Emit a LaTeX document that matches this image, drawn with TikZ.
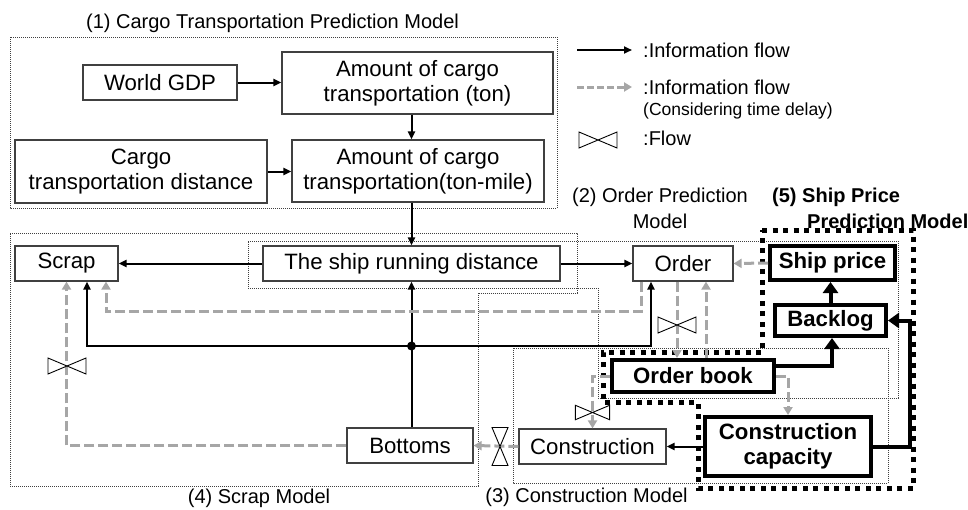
\documentclass[tikz,border=0pt]{standalone}
\usepackage{fontspec}
\setmainfont{Liberation Sans}
\usetikzlibrary{arrows.meta}
\definecolor{dg}{HTML}{A6A6A6}
\definecolor{bx}{HTML}{404040}
\tikzset{
 box/.style={draw=bx, line width=1.2pt, fill=white, inner sep=0pt, align=center, font=\fontsize{22.2}{25}\selectfont},
 tbox/.style={draw=black, line width=4pt, fill=white, inner sep=0pt, align=center, font=\bfseries\fontsize{22.2}{25}\selectfont},
 lbl/.style={inner sep=0pt, align=center, font=\fontsize{20}{26}\selectfont},
 arr/.style={draw=black, line width=2pt, -{Triangle[length=8pt,width=7pt]}},
 tarr/.style={draw=black, line width=4pt, -{Triangle[length=11pt,width=15pt]}},
 gd/.style={draw=dg, line width=3pt, dash pattern=on 10pt off 4pt, -{Triangle[length=8pt,width=9pt,fill=dg]}},
 region/.style={draw=bx, line width=0.8pt, dash pattern=on 1pt off 1pt},
 tregion/.style={draw=black, line width=5pt, dash pattern=on 5pt off 5.5pt},
 valve/.pic={\draw[black, line width=0.9pt, fill=white, solid] (-19,-8) -- (0,0) -- (-19,8) -- cycle (19,-8) -- (0,0) -- (19,8) -- cycle;}
}
\begin{document}
\begin{tikzpicture}[x=1pt,y=-1pt]
\useasboundingbox[fill=white] (0,0) rectangle (968,509);

% regions
\draw[region] (10,37) rectangle (557,208);
\draw[region] (10,233) -- (577,233) -- (577,293) -- (478,293) -- (478,486) -- (10,486) -- cycle;
\draw[region] (248,241) -- (898,241) -- (898,398) -- (598,398) -- (598,288) -- (248,288) -- cycle;
\draw[region] (513,348) rectangle (888,483);
\draw[tregion] (762,230) -- (913,230) -- (913,488) -- (698,488) -- (698,402) -- (603,402) -- (603,352) -- (762,352) -- cycle;

% labels
\node[lbl] (t1) at (272.5,23) {(1) Cargo Transportation Prediction Model};
\node[lbl] (t2) at (660,208) {(2) Order Prediction\\Model};
\node[lbl, anchor=west, align=left, font=\bfseries\fontsize{20}{26}\selectfont] (t5) at (772,208) {(5) Ship Price\\\hspace*{35pt}Prediction Model};
\node[lbl] (t4) at (259,498) {(4) Scrap Model};
\node[lbl] (t3) at (586.5,497) {(3) Construction Model};

% nodes
\node[box, minimum width=154pt, minimum height=35pt] (gdp) at (160,82.5) {World GDP};
\node[box, minimum width=271pt, minimum height=62pt] (ton) at (417.5,83) {Amount of cargo\\transportation (ton)};
\node[box, minimum width=252pt, minimum height=63pt] (dist) at (141,171.5) {Cargo\\transportation distance};
\node[box, minimum width=252pt, minimum height=62pt] (tonmile) at (418,171) {Amount of cargo\\transportation(ton-mile)};
\node[box, minimum width=103pt, minimum height=35pt] (scrap) at (66.5,263.5) {Scrap};
\node[box, minimum width=297pt, minimum height=35pt] (ship) at (411.5,263.5) {The ship running distance};
\node[box, minimum width=100pt, minimum height=35pt] (order) at (683,263.5) {Order};
\node[tbox, minimum width=125pt, minimum height=34pt] (price) at (832.5,263) {Ship price};
\node[tbox, minimum width=111pt, minimum height=31pt] (backlog) at (830.5,320.5) {Backlog};
\node[tbox, minimum width=162pt, minimum height=32pt] (obook) at (693,376) {Order book};
\node[tbox, minimum width=166pt, minimum height=59pt] (ccap) at (788,446.5) {Construction\\capacity};
\node[box, minimum width=147pt, minimum height=35pt] (constr) at (592.5,446.5) {Construction};
\node[box, minimum width=126pt, minimum height=35pt] (bottoms) at (410,445.5) {Bottoms};

% solid connectors
\draw[arr] (gdp.east) -- (ton.west |- gdp.east);
\draw[arr] (ship |- ton.south) -- (ship |- tonmile.north);
\draw[arr] (dist.east) -- (tonmile.west |- dist.east);
\draw[arr] (ship |- tonmile.south) -- (ship.north);
\draw[arr] (ship.west) -- (scrap.east);
\draw[arr] (ship.east) -- (order.west);
\coordinate (j) at (411.5,346);
\draw[arr] (j |- bottoms.north) -- (ship.south);
\draw[arr] (j) -| ([xshift=20.5pt]scrap.south);
\draw[arr] (j) -| ([xshift=-32pt]order.south);
\fill (j) circle (4.5);
\draw[arr] (ccap.west) -- (constr.east);

% thick connectors
\draw[tarr] (backlog.north) -- (backlog.north |- price.south);
\draw[tarr] ([yshift=10pt]obook.east) -| ([xshift=1.5pt]backlog.south);
\draw[tarr] (ccap.east) -- ++(37,0) |- (backlog.east);

% gray dashed connectors
\draw[gd] (price.west) -- (order.east);
\draw[gd] ([xshift=-42pt]order.south) -- ++(0,30) -| ([xshift=39.5pt]scrap.south);
\draw[gd] ([xshift=-6pt]order.south) -- ([xshift=-6pt]order.south |- obook.north);
\draw[gd] ([xshift=13pt]obook.north) -- ([xshift=13pt]obook.north |- order.south);
\draw[gd] (obook.west) -| (constr.north);
\draw[gd] (obook.east) -| (ccap.north);
\draw[gd] (constr.west) -- (bottoms.east);
\draw[gd] (bottoms.west) -| (scrap.south);

% valves
\pic at (677,325) {valve};
\pic[scale=0.9] at (592.5,412.5) {valve};
\pic[rotate=90] at (500,446.5) {valve};
\pic at (67,366) {valve};

% legend
\coordinate (la1) at (577,50);
\coordinate (la2) at (632,50);
\coordinate (lb1) at (577,87);
\coordinate (lb2) at (632,87);
\draw[arr] (la1) -- (la2);
\draw[gd, dash pattern=on 7pt off 3pt] (lb1) -- (lb2);
\pic at (598,140) {valve};
\node[lbl, anchor=west] (l1) at (643,50) {:Information flow};
\node[lbl, anchor=west] (l2) at (643,87) {:Information flow};
\node[lbl, anchor=west, font=\fontsize{17.5}{20}\selectfont] (l3) at (643,111) {(Considering time delay)};
\node[lbl, anchor=west] (l4) at (643,138) {:Flow};
\end{tikzpicture}
\end{document}
